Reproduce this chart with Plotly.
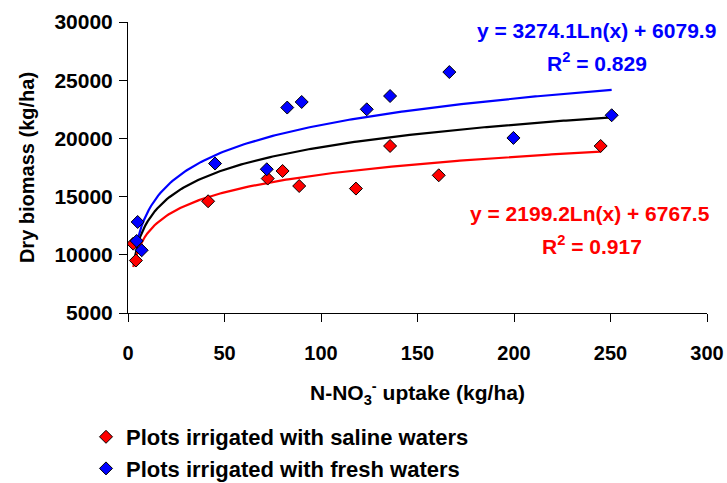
import numpy as np
import plotly.graph_objects as go

# Data
saline_x = [4.1, 2.7, 41.5, 72.4, 80.1, 88.7, 118.1, 135.8, 161.0, 244.9]
saline_y = [9510, 10960, 14600, 16550, 17200, 15910, 15690, 19350, 16830, 19350]

fresh_x = [5.0, 4.5, 7.1, 45.1, 71.9, 82.5, 90.0, 123.7, 135.8, 166.5, 199.7, 250.6]
fresh_y = [12820, 11190, 10390, 17840, 17350, 22650, 23130, 22500, 23640, 25700, 20040, 21990]

# Logarithmic trendline coefficients (y = a*ln(x) + b)
saline_fit = [2199.2, 6767.5]
fresh_fit = [3274.1, 6079.9]
all_fit = [2790.0, 6400.0]

x_ticks = [0, 50, 100, 150, 200, 250, 300]
y_ticks = [5000, 10000, 15000, 20000, 25000, 30000]

FONT = "Liberation Sans, Arial, sans-serif"
L, R, T, B = 128, 707, 22, 313
PW, PH = R - L, B - T


def trend(coef, xmin, xmax):
    xs = np.linspace(xmin, xmax, 200)
    return xs, coef[0] * np.log(xs) + coef[1]


fig = go.Figure()

all_x = saline_x + fresh_x
tx, ty = trend(all_fit, min(all_x), max(all_x))
fig.add_trace(go.Scatter(x=tx, y=ty, mode="lines", line=dict(color="black", width=2.2),
                         showlegend=False, hoverinfo="skip"))
tx, ty = trend(fresh_fit, min(fresh_x), max(fresh_x))
fig.add_trace(go.Scatter(x=tx, y=ty, mode="lines", line=dict(color="#0000FF", width=2.2),
                         showlegend=False, hoverinfo="skip"))
tx, ty = trend(saline_fit, min(saline_x), max(saline_x))
fig.add_trace(go.Scatter(x=tx, y=ty, mode="lines", line=dict(color="#FF0000", width=2.2),
                         showlegend=False, hoverinfo="skip"))

fig.add_trace(go.Scatter(
    x=saline_x, y=saline_y, mode="markers", name="Plots irrigated with saline waters",
    marker=dict(symbol="diamond", size=10, color="#FF0000", line=dict(color="black", width=1))))
fig.add_trace(go.Scatter(
    x=fresh_x, y=fresh_y, mode="markers", name="Plots irrigated with fresh waters",
    marker=dict(symbol="diamond", size=10, color="#0000FF", line=dict(color="black", width=1))))

ann_font_blue = dict(family=FONT, size=21, color="#0000FF", weight="bold")
ann_font_red = dict(family=FONT, size=21, color="#FF0000", weight="bold")
# (pixel x, pixel y from top, text, font, anchor)
ann_specs = [
    (718, 30, "y = 3274.1Ln(x) + 6079.9", ann_font_blue, "right"),
    (597, 62, "R<sup>2</sup> = 0.829", ann_font_blue, "center"),
    (712, 213, "y = 2199.2Ln(x) + 6767.5", ann_font_red, "right"),
    (592, 245, "R<sup>2</sup> = 0.917", ann_font_red, "center"),
]
annotations = []
for px, py, txt, fnt, anc in ann_specs:
    annotations.append(dict(x=(px - L) / PW, y=(B - py) / PH, xref="paper", yref="paper",
                            text=txt, font=fnt, xanchor=anc, yanchor="middle",
                            showarrow=False))

fig.update_layout(
    width=727, height=483,
    margin=dict(l=L, r=727 - R, t=T, b=483 - B, autoexpand=False),
    paper_bgcolor="white", plot_bgcolor="white",
    font=dict(family=FONT, size=20, color="black", weight="bold"),
    annotations=annotations,
    legend=dict(x=(86 - L) / PW, y=(B - 416) / PH, xanchor="left", yanchor="top",
                font=dict(family=FONT, size=22, color="black", weight="bold"),
                bgcolor="rgba(0,0,0,0)", tracegroupgap=0),
    xaxis=dict(range=[0, 300], tickvals=x_ticks, ticktext=[str(v) for v in x_ticks],
               showgrid=False, zeroline=False, showline=True, linecolor="black", linewidth=1,
               ticks="outside", ticklen=8, tickcolor="black", automargin=False,
               ticklabelstandoff=14,
               tickfont=dict(family=FONT, size=20, color="black", weight="bold"),
               title=dict(text="N-NO<sub>3</sub><sup>-</sup> uptake (kg/ha)",
                          font=dict(family=FONT, size=21, color="black", weight="bold"),
                          standoff=22)),
    yaxis=dict(range=[5000, 30000], tickvals=y_ticks, ticktext=[str(v) for v in y_ticks],
               showgrid=False, zeroline=False, showline=True, linecolor="black", linewidth=1,
               ticks="outside", ticklen=8, tickcolor="black", automargin=False,
               ticklabelstandoff=2,
               tickfont=dict(family=FONT, size=21, color="black", weight="bold"),
               title=dict(text="Dry biomass (kg/ha)",
                          font=dict(family=FONT, size=20, color="black", weight="bold"),
                          standoff=14)),
)

fig.write_html("out.html", config={"displayModeBar": False},
               post_script="document.body.style.margin='0';document.body.style.overflow='hidden';")
